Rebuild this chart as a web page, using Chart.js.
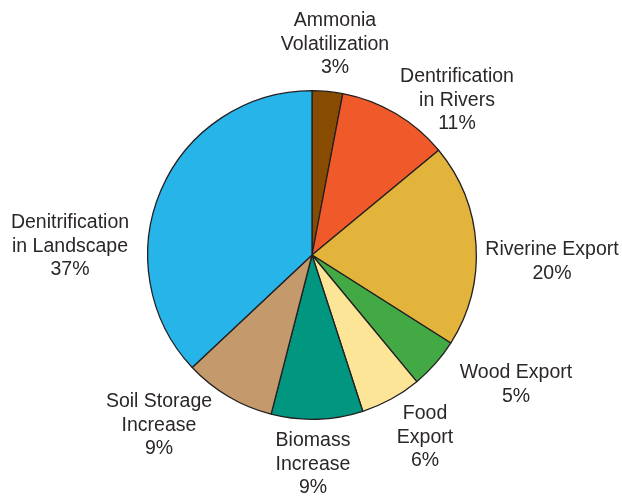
<!DOCTYPE html>
<html>
<head>
<meta charset="utf-8">
<script src="https://cdn.jsdelivr.net/npm/chart.js@4.4.0/dist/chart.umd.min.js"></script>
<style>
  html, body { margin: 0; padding: 0; background: #fff; }
  #wrap { width: 622px; height: 497px; position: relative; }
</style>
</head>
<body>
<div id="wrap"><canvas id="chart"></canvas></div>
<script>
'use strict';

// slices, clockwise from 12 o'clock
let sliceNames = [
  ['Ammonia', 'Volatilization'],
  ['Dentrification', 'in Rivers'],
  ['Riverine Export'],
  ['Wood Export'],
  ['Food', 'Export'],
  ['Biomass', 'Increase'],
  ['Soil Storage', 'Increase'],
  ['Denitrification', 'in Landscape']
];
let slicePercents = [3, 11, 20, 5, 6, 9, 9, 37];
let sliceColors = ['#874b02', '#f05a2a', '#e3b43b', '#43a945', '#fde598', '#009680', '#c49a6c', '#27b4e8'];

// where each label block sits, first-line baseline, relative to pie centre
let labelOffsets = [
  [23, -229], [145, -173], [240, 0], [204, 123],
  [113, 164], [1, 191], [-153, 152], [-242, -27]
];

let canvasElem = document.getElementById('chart');

let outsideLabels = {
  id: 'outsideLabels',
  afterDatasetsDraw(chart) {
    let ctx = chart.ctx;
    let arc = chart.getDatasetMeta(0).data[0];
    let cx = arc.x, cy = arc.y;
    ctx.save();
    ctx.fillStyle = '#2b2728';
    ctx.font = '19.5px "Liberation Sans", Arial, sans-serif';
    ctx.textAlign = 'center';
    ctx.textBaseline = 'alphabetic';
    for (let i = 0; i < sliceNames.length; i++) {
      let lines = sliceNames[i].concat([slicePercents[i] + '%']);
      for (let j = 0; j < lines.length; j++) {
        ctx.fillText(lines[j], cx + labelOffsets[i][0], cy + labelOffsets[i][1] + j * 23.5);
      }
    }
    ctx.restore();
  }
};

function renderChart() {
  let chartObj = {
    type: 'pie',
    data: {
      labels: sliceNames.map(n => n.join(' ')),
      datasets: [{
        data: slicePercents,
        backgroundColor: sliceColors,
        borderColor: '#231f20',
        borderWidth: 1.3
      }]
    },
    options: {
      responsive: true,
      maintainAspectRatio: false,
      animation: false,
      layout: { padding: { top: 90, bottom: 77, left: 147, right: 145 } },
      plugins: {
        legend: { display: false },
        tooltip: { enabled: false }
      }
    },
    plugins: [outsideLabels]
  };
  new Chart(canvasElem, chartObj);
}

renderChart();
</script>
</body>
</html>
